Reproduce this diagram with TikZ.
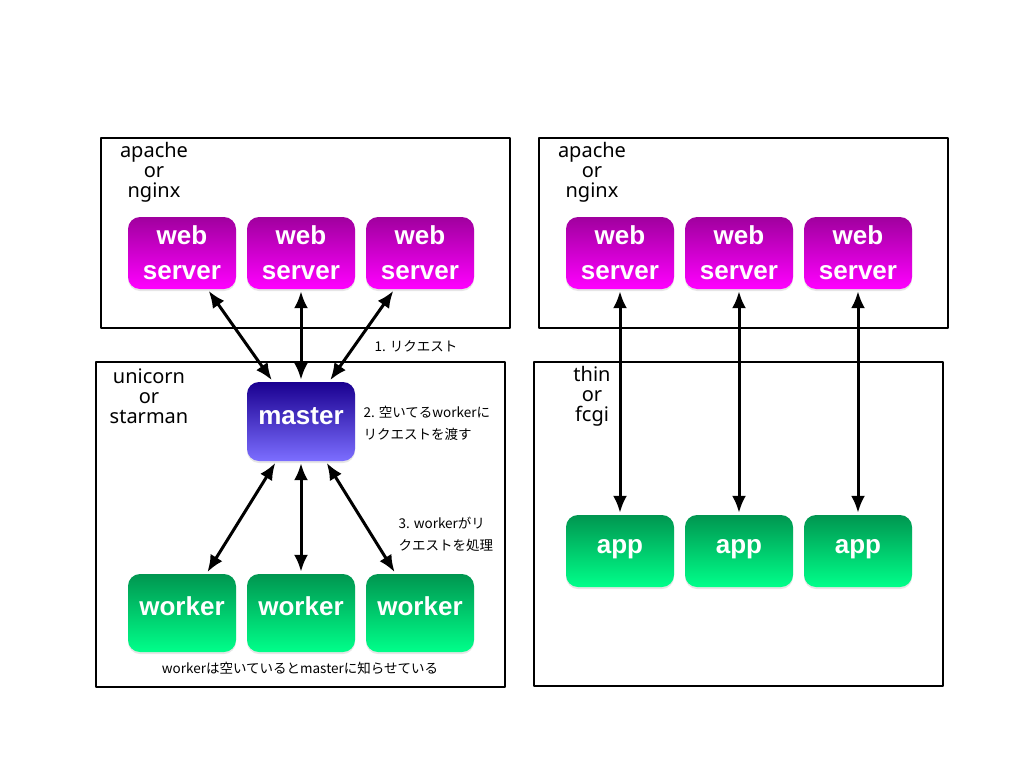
\documentclass[tikz,border=0pt]{standalone}
\usepackage{fontspec}
\setmainfont{Noto Sans}
\newfontfamily\jpfont{Noto Sans CJK JP}
\newfontfamily\boxfont{Liberation Sans}
\usepackage{tikz}
\usetikzlibrary{arrows.meta,%
                shapes,positioning,shadows}
\definecolor{webTop}{RGB}{160,0,158}
\definecolor{webBot}{RGB}{255,0,255}
\definecolor{mstTop}{RGB}{26,0,144}
\definecolor{mstBot}{RGB}{124,110,255}
\definecolor{wrkTop}{RGB}{0,150,80}
\definecolor{wrkBot}{RGB}{0,255,138}
\tikzstyle{frame}=[rectangle,draw=black,line width=2pt,inner sep=0pt]
\tikzstyle{box}=[rectangle,rounded corners=12pt,inner sep=0pt,text=white,align=center,
  font=\boxfont\bfseries\fontsize{26}{35}\selectfont,minimum width=108pt,
  drop shadow={opacity=0.2,shadow xshift=0pt,shadow yshift=-2pt}]
\tikzstyle{web}=[box,top color=webTop,bottom color=webBot,minimum height=72pt]
\tikzstyle{mstr}=[box,top color=mstTop,bottom color=mstBot,minimum height=79pt,text depth=10pt]
\tikzstyle{wrk}=[box,top color=wrkTop,bottom color=wrkBot,minimum height=78pt,text depth=14pt]
\tikzstyle{app}=[wrk,minimum height=72pt,text depth=10pt]
\tikzstyle{title}=[align=center,font=\fontsize{20}{20}\selectfont]
\tikzstyle{note}=[align=left,anchor=west,font=\jpfont\fontsize{13.5}{22}\selectfont]
\tikzstyle{link}=[{Latex[length=17pt,width=14pt]}-{Latex[length=17pt,width=14pt]},line width=3pt,shorten >=2pt,shorten <=2pt]

\begin{document}
\begin{tikzpicture}[line join=bevel,x=1pt,y=-1pt]
	  \useasboundingbox (0,0) rectangle (1024,768);
	  \node (webL) at (305.5,233) [frame,minimum width=409pt,minimum height=190pt] {};
	  \node (webR) at (743.5,233) [frame,minimum width=409pt,minimum height=190pt] {};
	  \node (uni) at (300.5,524.5) [frame,minimum width=409pt,minimum height=325pt] {};
	  \node (thin) at (738.5,524) [frame,minimum width=409pt,minimum height=324pt] {};
	  \node (tWebL) at (154,172) [title] {apache\\or\\nginx};
	  \node (tWebR) at (592,172) [title] {apache\\or\\nginx};
	  \node (tUni) at (149,396) [title] {unicorn\\or\\starman};
	  \node (tThin) at (592,396) [title] {thin\\or\\fcgi};
	  \node (ws1) at (182,253) [web] {web\\server};
	  \node (ws2) at (301,253) [web] {web\\server};
	  \node (ws3) at (420,253) [web] {web\\server};
	  \node (ws4) at (620,253) [web] {web\\server};
	  \node (ws5) at (739,253) [web] {web\\server};
	  \node (ws6) at (858,253) [web] {web\\server};
	  \node (M) at (301,421.5) [mstr] {master};
	  \node (W1) at (182,613) [wrk] {worker};
	  \node (W2) at (301,613) [wrk] {worker};
	  \node (W3) at (420,613) [wrk] {worker};
	  \node (A1) at (620,551) [app] {app};
	  \node (A2) at (739,551) [app] {app};
	  \node (A3) at (858,551) [app] {app};
	  \node (n1) at (371,346) [note] {1. リクエスト};
	  \node (n2) at (360,423) [note] {2. 空いてるworkerに\\リクエストを渡す};
	  \node (n3) at (395,534) [note] {3. workerがリ\\クエストを処理};
	  \node (n4) at (300,668) [note,anchor=center] {workerは空いているとmasterに知らせている};
	  \draw [link] (M) -- (ws1);
	  \draw [link] (M) -- (ws2);
	  \draw [link] (M) -- (ws3);
	  \draw [link] (M) -- (W1);
	  \draw [link] (M) -- (W2);
	  \draw [link] (M) -- (W3);
	  \draw [link] (ws4) -- (A1);
	  \draw [link] (ws5) -- (A2);
	  \draw [link] (ws6) -- (A3);
    %
    \end{tikzpicture}
\end{document}
